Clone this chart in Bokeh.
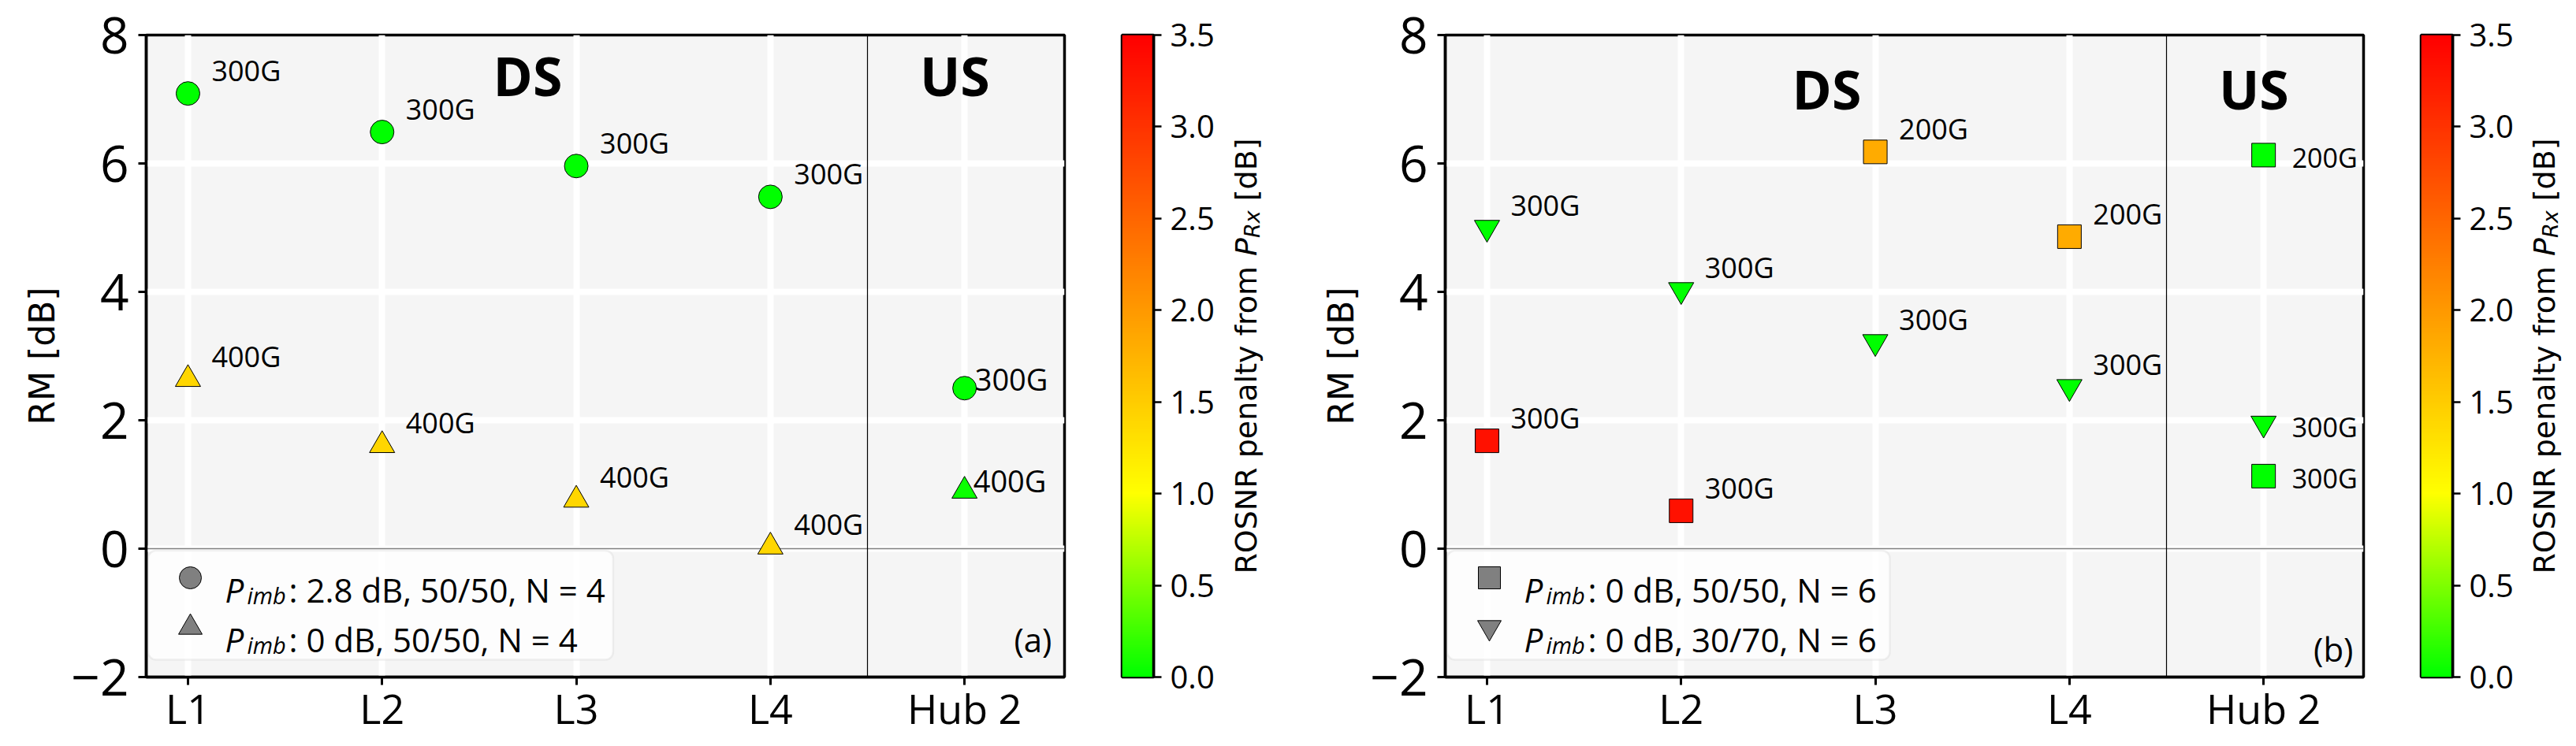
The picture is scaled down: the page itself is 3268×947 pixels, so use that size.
import numpy as np
from bokeh.plotting import figure
from bokeh.layouts import row
from bokeh.models import (Range1d, FixedTicker, Span, Label, BoxAnnotation,
                          LinearColorMapper, PrintfTickFormatter, ColumnDataSource)
from bokeh.core.properties import value
from bokeh.embed import file_html
from bokeh.resources import INLINE

# ---------------- data ----------------
categories = ["L1", "L2", "L3", "L4", "Hub 2"]
cat_pos = [0, 1, 2, 3, 4]
y_ticks = [-2, 0, 2, 4, 6, 8]
cbar_ticks = [0.0, 0.5, 1.0, 1.5, 2.0, 2.5, 3.0, 3.5]
y_label = "RM [dB]"

# panel (a)
a_circ_x = [0, 1, 2, 3, 4]
a_circ_rm = [7.09, 6.49, 5.96, 5.48, 2.50]
a_circ_pen = [0.0, 0.0, 0.0, 0.0, 0.0]
a_circ_cap = ["300G", "300G", "300G", "300G", "300G"]

a_tri_x = [0, 1, 2, 3, 4]
a_tri_rm = [2.64, 1.61, 0.76, 0.03, 0.90]
a_tri_pen = [1.40, 1.40, 1.40, 1.40, 0.05]
a_tri_cap = ["400G", "400G", "400G", "400G", "400G"]

a_legend = [": 2.8 dB, 50/50, N = 4", ": 0 dB, 50/50, N = 4"]

# panel (b)
b_sq_x = [0, 1, 2, 3, 4, 4]
b_sq_rm = [1.68, 0.59, 6.18, 4.86, 6.13, 1.13]
b_sq_pen = [3.33, 3.33, 1.83, 1.83, 0.0, 0.0]
b_sq_cap = ["300G", "300G", "200G", "200G", "200G", "300G"]

b_tri_x = [0, 1, 2, 3, 4]
b_tri_rm = [5.00, 4.03, 3.22, 2.52, 1.95]
b_tri_pen = [0.0, 0.0, 0.0, 0.0, 0.0]
b_tri_cap = ["300G", "300G", "300G", "300G", "300G"]

b_legend = [": 0 dB, 50/50, N = 6", ": 0 dB, 30/70, N = 6"]

cbar_label = "ROSNR penalty from"
pen_low, pen_high = 0.0, 3.5

# ---------------- colormap (lime -> yellow -> red) ----------------
cmap_nodes = [0.0, 1.0, 3.5]
cmap_r = [0, 255, 255]
cmap_g = [255, 255, 0]
cmap_b = [0, 0, 0]
vals = np.linspace(pen_low, pen_high, 256)
palette = ["#%02x%02x%02x" % (int(round(np.interp(v, cmap_nodes, cmap_r))),
                              int(round(np.interp(v, cmap_nodes, cmap_g))),
                              int(round(np.interp(v, cmap_nodes, cmap_b)))) for v in vals]
mapper = LinearColorMapper(palette=palette, low=pen_low, high=pen_high)

FONT = "Open Sans"
LFONT = "DejaVu Sans"
XLIM = (-0.215, 4.515)
PX_X = 1165 / (XLIM[1] - XLIM[0])
PX_Y = 815 / 10.0
H = 936
TOP = 44
BOT = 77


def lab(p, x, y, text, xo=0, yo=0, size=36, style="normal", align="left",
        baseline="alphabetic", angle=0.0, font=FONT):
    p.add_layout(Label(x=x, y=y, text=text, x_offset=xo, y_offset=yo,
                       text_font=font, text_font_size=f"{size}px",
                       text_font_style=style, text_align=align,
                       text_baseline=baseline, angle=angle, text_color="black"))


def blank_fig(width, yr):
    f = figure(width=width, height=H, x_range=Range1d(0, width), y_range=Range1d(*yr),
               output_backend="svg", toolbar_location=None,
               min_border_left=0, min_border_right=0,
               min_border_top=TOP, min_border_bottom=BOT,
               x_axis_location=None, y_axis_location=None,
               background_fill_color="white", border_fill_color="white")
    f.outline_line_color = None
    f.grid.visible = False
    return f


def make_panel(tag, series, legend_rest, legend_markers, legend_right, ds_y, tag_yo, tag_xo):
    p = figure(width=1372, height=H,
               x_range=Range1d(*XLIM), y_range=Range1d(-2, 8),
               output_backend="svg", toolbar_location=None,
               min_border_left=185, min_border_right=22,
               min_border_top=TOP, min_border_bottom=BOT,
               background_fill_color="#f5f5f5", border_fill_color="white")
    p.outline_line_color = "black"
    p.outline_line_width = 3.5

    xt = FixedTicker(ticks=cat_pos)
    yt = FixedTicker(ticks=y_ticks)
    p.xaxis.ticker = xt
    p.yaxis.ticker = yt
    p.xgrid.ticker = xt
    p.ygrid.ticker = yt
    p.xaxis.major_label_overrides = {t: c for t, c in zip(cat_pos, categories)}
    p.yaxis.major_label_overrides = {t: str(t).replace("-", "\u2212") for t in y_ticks}
    for ax in (p.xaxis[0], p.yaxis[0]):
        ax.axis_line_width = 3.5
        ax.major_tick_in = 0
        ax.major_tick_out = 10
        ax.major_tick_line_width = 3
        ax.minor_tick_line_color = None
        ax.major_label_text_font = FONT
        ax.major_label_text_color = "black"
    xa = p.xaxis[0]
    ya = p.yaxis[0]
    xa.major_label_text_font_size = "52px"
    xa.major_label_standoff = -7
    ya.major_label_text_font_size = "64px"
    ya.major_label_standoff = 12
    ya.axis_label = y_label
    ya.axis_label_text_font = LFONT
    ya.axis_label_text_font_size = "44px"
    ya.axis_label_text_font_style = "normal"
    ya.axis_label_text_color = "black"
    ya.axis_label_standoff = 8
    p.grid.grid_line_color = "white"
    p.grid.grid_line_width = 8

    p.add_layout(Span(location=0, dimension="width", line_color="#808080",
                      line_width=1.5, level="underlay"))
    p.add_layout(Span(location=3.5, dimension="height", line_color="black",
                      line_width=1.2, level="underlay"))

    # legend frame
    p.add_layout(BoxAnnotation(left=XLIM[0] + 0.01, right=legend_right, top=-0.03, bottom=-1.73,
                               fill_color="white", fill_alpha=0.75,
                               line_color="#d0d0d0", line_width=2.5,
                               border_radius=10, level="underlay"))

    for (xs, ys, pens, caps, marker, size, hub_n, hub_off) in series:
        src = ColumnDataSource(dict(x=xs, rm=ys, pen=pens, cap=caps))
        p.scatter(x="x", y="rm", source=src, marker=marker, size=size,
                  fill_color={"field": "pen", "transform": mapper},
                  line_color="black", line_width=1)
        n = len(xs) - hub_n
        src_ds = ColumnDataSource(dict(x=xs[:n], rm=ys[:n], cap=caps[:n]))
        src_hub = ColumnDataSource(dict(x=xs[n:], rm=ys[n:], cap=caps[n:]))
        p.text(x="x", y="rm", text="cap", source=src_ds, text_font=value(FONT),
               text_font_size="36px", text_align="left", text_baseline="alphabetic",
               x_offset=30, y_offset=-29, text_color="black")
        p.text(x="x", y="rm", text="cap", source=src_hub, text_font=value(FONT),
               text_font_size=hub_off[2], text_align="left", text_baseline="alphabetic",
               x_offset=hub_off[0], y_offset=hub_off[1], text_color="black")

    # legend swatches and texts
    sw_x = XLIM[0] + 56 / PX_X
    row_y = [-37 / PX_Y, -100 / PX_Y]
    for (mk, sz), yy in zip(legend_markers, row_y):
        p.scatter(x=[sw_x], y=[yy], marker=mk, size=sz, fill_color="#808080",
                  line_color="black", line_width=1)
    for i, rest in enumerate(legend_rest):
        yo = -52 - 63 * i
        lab(p, XLIM[0], 0, "P", 100, yo, 42, style="italic")
        lab(p, XLIM[0], 0, "imb", 128, yo - 7, 29, style="italic")
        lab(p, XLIM[0], 0, rest, 181, yo, 42)

    lab(p, 1.75, ds_y, "DS", 0, 0, 68, style="bold", align="center")
    lab(p, 3.95, ds_y, "US", 0, 0, 68, style="bold", align="center")
    lab(p, XLIM[1], -2, tag, tag_xo, tag_yo, 42, align="right")
    return p


def make_cbar():
    c = figure(width=176, height=H, x_range=Range1d(0, 1),
               y_range=Range1d(pen_low, pen_high), output_backend="svg",
               toolbar_location=None, min_border_left=51, min_border_right=85,
               min_border_top=TOP, min_border_bottom=BOT,
               x_axis_location=None, y_axis_location="right",
               border_fill_color="white")
    c.grid.visible = False
    grad = np.linspace(pen_low, pen_high, 256).reshape(256, 1)
    c.image(image=[grad], x=0, y=pen_low, dw=1, dh=pen_high - pen_low, color_mapper=mapper)
    c.outline_line_color = "black"
    c.outline_line_width = 3.5
    ax = c.yaxis[0]
    ax.ticker = FixedTicker(ticks=cbar_ticks)
    ax.formatter = PrintfTickFormatter(format="%.1f")
    ax.axis_line_width = 3.5
    ax.major_tick_in = 0
    ax.major_tick_out = 10
    ax.major_tick_line_width = 2.5
    ax.minor_tick_line_color = None
    ax.major_label_text_font = FONT
    ax.major_label_text_font_size = "40px"
    ax.major_label_text_color = "black"
    ax.major_label_standoff = 11
    return c


def make_cbar_label(width, base_x):
    f = blank_fig(width, (pen_low, pen_high))
    fs = 38
    fsub = 27
    w1 = 10.304 * fs
    wsp = 0.318 * fs
    wP = 0.603 * fs
    wRx = 1.287 * fsub
    w4 = 2.101 * fs
    total = w1 + wsp + wP + wRx + wsp + w4
    y0 = -total / 2
    ang = np.pi / 2
    yc = (pen_low + pen_high) / 2
    lab(f, base_x, yc, cbar_label, 0, y0, fs, angle=ang, font=LFONT)
    lab(f, base_x, yc, "P", 0, y0 + w1 + wsp, fs, style="italic", angle=ang, font=LFONT)
    lab(f, base_x, yc, "Rx", 8, y0 + w1 + wsp + wP, fsub, style="italic", angle=ang, font=LFONT)
    lab(f, base_x, yc, "[dB]", 0, y0 + w1 + wsp + wP + wRx + wsp, fs, angle=ang, font=LFONT)
    return f


series_a = [
    (a_circ_x, a_circ_rm, a_circ_pen, a_circ_cap, "circle", 30, 1, (13, -12, "38px")),
    (a_tri_x, a_tri_rm, a_tri_pen, a_tri_cap, "triangle", 32, 1, (11, -13, "38px")),
]
series_b = [
    (b_sq_x, b_sq_rm, b_sq_pen, b_sq_cap, "square", 30, 2, (36, 3, "34px")),
    (b_tri_x, b_tri_rm, b_tri_pen, b_tri_cap, "inverted_triangle", 32, 1, (36, 4, "34px")),
]

pa = make_panel("(a)", series_a, a_legend, [("circle", 28), ("triangle", 30)], 2.19, 7.37, 48, -16)
ca = make_cbar()
la = make_cbar_label(100, 32)
pb = make_panel("(b)", series_b, b_legend, [("square", 28), ("inverted_triangle", 30)], 2.075, 7.16, 36, -13)
cb = make_cbar()
lb = make_cbar_label(56, 31)

layout = row(pa, ca, la, pb, cb, lb)
open("out.html", "w").write(file_html(layout, INLINE))
